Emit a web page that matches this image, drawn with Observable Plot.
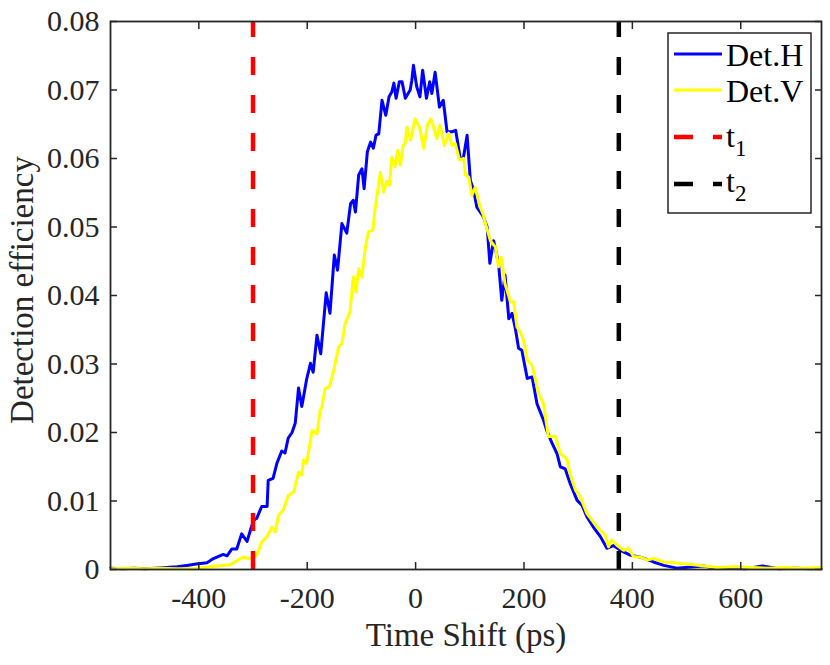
<!DOCTYPE html>
<html><head><meta charset="utf-8">
<script src="https://cdn.jsdelivr.net/npm/d3@7"></script>
<script src="https://cdn.jsdelivr.net/npm/@observablehq/plot@0.6"></script>
<style>body{margin:0;background:#fff} #chart{width:830px;height:665px}</style>
</head><body><div id="chart"></div>
<script>
// Det.H (blue)
const hX = [-563,-540,-520,-500,-480,-460,-440,-422,-405,-385,-373,-355,-348,-339,-330,-321,-311,-305,-299,-293,-284,-274,-272,-263,-256,-247,-241,-235,-228,-222,-216,-210,-201,-194,-189,-182,-175,-165,-158,-150,-144,-136,-127,-120,-115,-111,-105,-99,-95,-89,-83,-78,-73,-68,-62,-55,-49,-44,-40,-36,-30,-25,-19,-10,-7,-4,2,8,13,20,26,30,36,44,51,58,67,74,82,88,95,101,107,113,125,132,137,144,153,159,165,172,178,184,190,196,206,215,224,236,242,252,261,267,276,285,298,307,316,328,341,353,365,378,396,415,439,458,482,513,532,550,580,610,640,670,700,730,749];
const hY = [0.0002,0.0001,0.0002,0.0001,0.0002,0.0003,0.0004,0.0006,0.0008,0.001,0.0016,0.0022,0.002,0.003,0.003,0.0052,0.0041,0.0057,0.0072,0.0075,0.0092,0.0092,0.013,0.0133,0.0155,0.0173,0.017,0.0192,0.02,0.0214,0.0265,0.0238,0.0278,0.0301,0.0288,0.0342,0.0315,0.0404,0.0374,0.0459,0.0437,0.0505,0.0491,0.0534,0.0539,0.0522,0.0576,0.0585,0.0556,0.061,0.0624,0.0615,0.0634,0.0636,0.0685,0.0663,0.069,0.0697,0.071,0.0688,0.0712,0.0712,0.0688,0.07,0.0714,0.0736,0.0705,0.069,0.0729,0.0688,0.0712,0.0695,0.0726,0.0675,0.0685,0.0639,0.0639,0.0641,0.0602,0.06,0.0634,0.0568,0.0554,0.0529,0.0515,0.05,0.0447,0.048,0.0447,0.0393,0.043,0.0366,0.0374,0.0352,0.0323,0.032,0.0279,0.0281,0.0242,0.0218,0.0203,0.0184,0.0169,0.015,0.0147,0.0126,0.0101,0.0094,0.0077,0.0062,0.0048,0.0031,0.0035,0.0028,0.0021,0.0018,0.0011,0.0006,0.0002,0.0004,0.0005,0.0002,0.0002,0.0001,0.0005,0.0001,0.0002,0.0001,0.0002];
// Det.V (yellow)
const vX = [-563,-530,-500,-470,-440,-410,-379,-355,-342,-327,-318,-308,-293,-284,-274,-265,-259,-253,-244,-235,-225,-216,-210,-207,-201,-191,-182,-176,-173,-167,-159,-151,-142,-136,-130,-121,-115,-110,-105,-99,-93,-87,-79,-75,-65,-59,-53,-48,-44,-38,-33,-28,-23,-19,-16,-9,-1,7,15,22,28,33,39,45,53,61,67,73,81,89,92,98,104,110,119,124,129,138,147,153,158,165,175,181,187,193,199,206,215,227,236,245,258,267,279,285,295,304,316,328,341,350,356,362,372,384,393,402,415,427,439,458,476,501,532,556,590,620,650,680,710,749];
const vY = [0.0001,0.0002,0.0001,0.0002,0.0001,0.0001,0.0004,0.0006,0.0007,0.0014,0.0018,0.0016,0.0021,0.004,0.0048,0.0062,0.0055,0.0079,0.0087,0.0108,0.0113,0.0142,0.0138,0.016,0.0155,0.0203,0.0198,0.0233,0.0237,0.0264,0.0267,0.0291,0.0325,0.033,0.0359,0.0376,0.0427,0.0405,0.0439,0.0427,0.0469,0.0493,0.0495,0.0525,0.058,0.0551,0.0567,0.0561,0.0602,0.0588,0.0612,0.059,0.0619,0.0622,0.0646,0.0627,0.0658,0.0646,0.0615,0.0649,0.0658,0.0646,0.0629,0.0649,0.0619,0.0637,0.0619,0.0622,0.0598,0.06,0.0576,0.0573,0.0546,0.0558,0.0529,0.052,0.0505,0.048,0.0471,0.0442,0.0456,0.0417,0.0391,0.0391,0.0354,0.0347,0.0335,0.0306,0.0298,0.0257,0.0242,0.0194,0.0194,0.0169,0.0162,0.014,0.0116,0.0106,0.0082,0.0069,0.0057,0.005,0.0033,0.0043,0.0035,0.0028,0.0031,0.0019,0.0018,0.0014,0.0016,0.0011,0.001,0.0008,0.0005,0.0003,0.0004,0.0003,0.0002,0.0003,0.0002,0.0003];
// vertical markers
const markerNames = ["t1", "t2"];
const markerX = [-300, 375];
const markerColors = ["#ff0000", "#000000"];
const seriesNames = ["Det.H", "Det.V"];
const seriesColors = ["#0000ff", "#ffff00"];
// ticks
const xTicks = [-400, -200, 0, 200, 400, 600];
const xTickLabels = ["-400", "-200", "0", "200", "400", "600"];
const yTicks = [0, 0.01, 0.02, 0.03, 0.04, 0.05, 0.06, 0.07, 0.08];
const yTickLabels = ["0", "0.01", "0.02", "0.03", "0.04", "0.05", "0.06", "0.07", "0.08"];
const xLabel = "Time Shift (ps)";
const yLabel = "Detection efficiency";

const H = hX.map((x, i) => ({x, y: hY[i]}));
const V = vX.map((x, i) => ({x, y: vY[i]}));
const M = markerX.map((x, i) => ({x, name: markerNames[i], color: markerColors[i]}));
const axisColor = "#262626";
const font = "Liberation Serif, Times New Roman, serif";
const none = () => "";

const plot = Plot.plot({
  width: 830, height: 665,
  marginLeft: 110, marginRight: 9, marginTop: 21, marginBottom: 96,
  style: {fontFamily: font, fontSize: "30px", color: axisColor, background: "#fff", overflow: "visible"},
  x: {domain: [-563, 749]},
  y: {domain: [0, 0.08]},
  marks: [
    Plot.line(H, {x: "x", y: "y", stroke: seriesColors[0], strokeWidth: 3}),
    Plot.line(V, {x: "x", y: "y", stroke: seriesColors[1], strokeWidth: 3}),
    Plot.ruleX(M, {x: "x", y1: 0, y2: 0.08, stroke: "color", strokeWidth: 4.5, strokeDasharray: "18,20"}),
    // inward ticks (outward ticks shifted inside the frame)
    Plot.axisX({anchor: "bottom", ticks: xTicks, tickSize: 7, dy: -7, tickFormat: none, label: null, stroke: axisColor, strokeWidth: 1.5}),
    Plot.axisX({anchor: "top", ticks: xTicks, tickSize: 7, dy: 7, tickFormat: none, label: null, stroke: axisColor, strokeWidth: 1.5}),
    Plot.axisY({anchor: "left", ticks: yTicks, tickSize: 7, dx: 7, tickFormat: none, label: null, stroke: axisColor, strokeWidth: 1.5}),
    Plot.axisY({anchor: "right", ticks: yTicks, tickSize: 7, dx: -7, tickFormat: none, label: null, stroke: axisColor, strokeWidth: 1.5}),
    // tick labels
    Plot.axisX({anchor: "bottom", ticks: xTicks, tickSize: 0, tickPadding: 17, tickFormat: d => xTickLabels[xTicks.indexOf(d)], label: null, fill: axisColor, fontFamily: font, fontSize: 30}),
    Plot.axisY({anchor: "left", ticks: yTicks, tickSize: 0, tickPadding: 11, tickFormat: d => yTickLabels[yTicks.indexOf(d)], label: null, fill: axisColor, fontFamily: font, fontSize: 30}),
    Plot.frame({stroke: axisColor, strokeWidth: 1.8})
  ]
});
document.getElementById("chart").appendChild(plot);

const svg = d3.select(plot);
// axis labels
svg.append("text").attr("x", 466).attr("y", 646).attr("text-anchor", "middle")
  .attr("font-family", font).attr("font-size", 33).attr("fill", axisColor).text(xLabel);
svg.append("text").attr("transform", "translate(33,290) rotate(-90)").attr("text-anchor", "middle")
  .attr("font-family", font).attr("font-size", 33).attr("fill", axisColor).text(yLabel);

// legend
const lg = svg.append("g").attr("text-anchor", "start");
lg.append("rect").attr("x", 668).attr("y", 33).attr("width", 143).attr("height", 180)
  .attr("fill", "#fff").attr("stroke", axisColor).attr("stroke-width", 1.5);
const entries = [
  {label: seriesNames[0], color: seriesColors[0], dash: null, ly: 54, ty: 66},
  {label: seriesNames[1], color: seriesColors[1], dash: null, ly: 90, ty: 102},
  {label: markerNames[0], color: markerColors[0], dash: "19,20", ly: 137, ty: 147},
  {label: markerNames[1], color: markerColors[1], dash: "19,20", ly: 184, ty: 192}
];
entries.forEach(e => {
  lg.append("line").attr("x1", 674).attr("x2", 722).attr("y1", e.ly).attr("y2", e.ly)
    .attr("stroke", e.color).attr("stroke-width", e.dash ? 4.5 : 3).attr("stroke-dasharray", e.dash);
  const t = lg.append("text").attr("x", 726).attr("y", e.ty).attr("font-family", font)
    .attr("text-anchor", "start").attr("font-size", 32).attr("fill", "#000");
  if (e.dash) {
    t.append("tspan").text(e.label[0]);
    t.append("tspan").attr("dy", 9).attr("font-size", 23).text(e.label.slice(1));
  } else {
    t.text(e.label);
  }
});
</script>
</body></html>
